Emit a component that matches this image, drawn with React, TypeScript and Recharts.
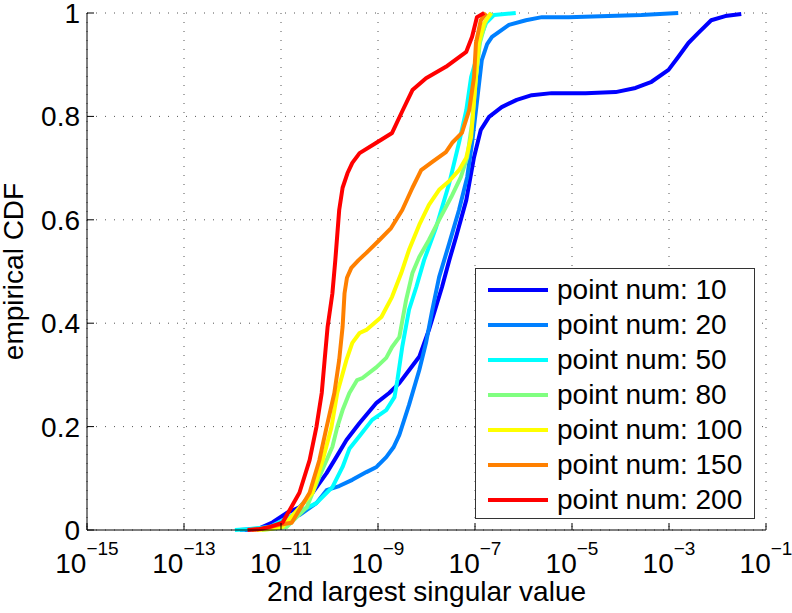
import { LineChart, Line, XAxis, YAxis, CartesianGrid, Legend } from "recharts";

// empirical CDF points per run: [log10(2nd singular value), cdf]
const num10: [number, number][] = [
  [-11.75, 0], [-11.48, 0.002], [-11.17, 0.015], [-10.88, 0.033], [-10.62, 0.044],
  [-10.35, 0.072], [-10.06, 0.11], [-9.86, 0.141], [-9.65, 0.174], [-9.38, 0.207],
  [-9.03, 0.246], [-8.77, 0.265], [-8.56, 0.284], [-8.36, 0.309], [-8.15, 0.335],
  [-7.95, 0.387], [-7.68, 0.47], [-7.53, 0.522], [-7.39, 0.567], [-7.18, 0.638],
  [-7.02, 0.721], [-6.88, 0.774], [-6.71, 0.799], [-6.45, 0.818], [-6.14, 0.832],
  [-5.83, 0.841], [-5.42, 0.845], [-4.72, 0.845], [-4.1, 0.847], [-3.69, 0.855],
  [-3.36, 0.867], [-3.01, 0.89], [-2.81, 0.915], [-2.6, 0.942], [-2.4, 0.961],
  [-2.13, 0.986], [-1.84, 0.994], [-1.51, 0.998],
];

const num20: [number, number][] = [
  [-11.85, 0], [-11.54, 0.002], [-11.13, 0.008], [-10.62, 0.029], [-10.27, 0.052],
  [-10.06, 0.077], [-9.8, 0.085], [-9.53, 0.097], [-9.24, 0.112], [-9.03, 0.122],
  [-8.83, 0.141], [-8.68, 0.16], [-8.56, 0.184], [-8.36, 0.242], [-8.15, 0.309],
  [-8.01, 0.362], [-7.88, 0.426], [-7.74, 0.489], [-7.53, 0.555], [-7.33, 0.619],
  [-7.16, 0.683], [-7.06, 0.749], [-6.98, 0.812], [-6.86, 0.909], [-6.75, 0.94],
  [-6.65, 0.954], [-6.3, 0.977], [-5.95, 0.986], [-5.62, 0.992], [-5.07, 0.992],
  [-4.25, 0.994], [-3.57, 0.996], [-2.81, 1],
];

const num50: [number, number][] = [
  [-11.95, 0], [-11.64, 0.002], [-11.23, 0.006], [-10.68, 0.033], [-10.27, 0.052],
  [-9.94, 0.083], [-9.73, 0.122], [-9.59, 0.157], [-9.38, 0.182], [-9.12, 0.213],
  [-8.83, 0.232], [-8.66, 0.257], [-8.6, 0.29], [-8.5, 0.354], [-8.36, 0.426],
  [-8.21, 0.47], [-8.05, 0.522], [-7.8, 0.586], [-7.53, 0.671], [-7.33, 0.749],
  [-7.18, 0.812], [-7.08, 0.876], [-6.98, 0.909], [-6.88, 0.954], [-6.77, 0.981],
  [-6.61, 0.996], [-6.16, 1],
];

const num80: [number, number][] = [
  [-11.4, 0], [-10.88, 0.006], [-10.47, 0.044], [-10.21, 0.103], [-9.94, 0.161],
  [-9.84, 0.199], [-9.73, 0.232], [-9.59, 0.265], [-9.43, 0.29], [-9.32, 0.294],
  [-9.03, 0.315], [-8.83, 0.333], [-8.71, 0.354], [-8.56, 0.373], [-8.42, 0.445],
  [-8.29, 0.497], [-8.15, 0.528], [-7.95, 0.561], [-7.74, 0.6], [-7.49, 0.644],
  [-7.29, 0.683], [-7.16, 0.721], [-7.06, 0.787], [-6.98, 0.876], [-6.9, 0.942],
  [-6.77, 0.986], [-6.65, 1],
];

const num100: [number, number][] = [
  [-11.5, 0], [-11.23, 0.002], [-10.97, 0.006], [-10.35, 0.072], [-10.14, 0.135],
  [-9.96, 0.199], [-9.84, 0.265], [-9.65, 0.329], [-9.53, 0.362], [-9.38, 0.381],
  [-9.24, 0.387], [-8.93, 0.412], [-8.71, 0.451], [-8.52, 0.497], [-8.36, 0.542],
  [-8.15, 0.59], [-7.95, 0.629], [-7.74, 0.658], [-7.53, 0.675], [-7.33, 0.696],
  [-7.18, 0.72], [-7.08, 0.76], [-6.98, 0.876], [-6.92, 0.942], [-6.81, 0.981],
  [-6.67, 1],
];

const num150: [number, number][] = [
  [-11.6, 0], [-11.4, 0.002], [-11.03, 0.01], [-10.78, 0.014], [-10.41, 0.072],
  [-10.21, 0.135], [-10.06, 0.199], [-9.9, 0.265], [-9.8, 0.329], [-9.73, 0.393],
  [-9.69, 0.458], [-9.64, 0.488], [-9.55, 0.507], [-9.4, 0.522], [-9.24, 0.536],
  [-8.97, 0.561], [-8.73, 0.584], [-8.5, 0.619], [-8.29, 0.662], [-8.11, 0.696],
  [-7.88, 0.712], [-7.6, 0.731], [-7.47, 0.749], [-7.27, 0.768], [-7.12, 0.812],
  [-7.02, 0.876], [-6.98, 0.942], [-6.88, 0.986], [-6.77, 1],
];

const num200: [number, number][] = [
  [-11.69, 0], [-11.44, 0.002], [-11.23, 0.006], [-10.97, 0.014], [-10.62, 0.072],
  [-10.41, 0.135], [-10.27, 0.199], [-10.16, 0.265], [-10.1, 0.329], [-10.04, 0.392],
  [-9.94, 0.458], [-9.88, 0.522], [-9.8, 0.619], [-9.73, 0.662], [-9.63, 0.69],
  [-9.53, 0.71], [-9.38, 0.729], [-9.05, 0.748], [-8.71, 0.768], [-8.5, 0.81],
  [-8.29, 0.851], [-8.01, 0.874], [-7.6, 0.896], [-7.18, 0.925], [-7.06, 0.954],
  [-6.96, 0.992], [-6.81, 1],
];

const seriesNames = [
  "point num: 10", "point num: 20", "point num: 50", "point num: 80",
  "point num: 100", "point num: 150", "point num: 200",
];
const seriesColors = ["#0000ff", "#0080ff", "#00ffff", "#80ff80", "#ffff00", "#ff8000", "#ff0000"];
const seriesPoints = [num10, num20, num50, num80, num100, num150, num200];

const xTicks = [1e-15, 1e-13, 1e-11, 1e-9, 1e-7, 1e-5, 1e-3, 1e-1];
const yTicks = [0, 0.2, 0.4, 0.6, 0.8, 1];

const FONT = "'Liberation Sans', Arial, Helvetica, sans-serif";

const series = seriesNames.map((name, i) => ({
  name,
  color: seriesColors[i],
  data: seriesPoints[i].map(([e, p]) => ({ sv: 10 ** e, cdf: p })),
}));

function PowerTick(props: any) {
  const { x, y, payload } = props;
  const exp = Math.round(Math.log10(payload.value));
  return (
    <text x={x} y={y + 43} textAnchor="middle" fontSize={28} fontFamily={FONT} fill="#000">
      <tspan>10</tspan>
      <tspan dy={-18} fontSize={19}>{`\u2212${-exp}`}</tspan>
    </text>
  );
}

function CdfTick(props: any) {
  const { x, y, payload } = props;
  const v = payload.value;
  const label = v === 0 ? "0" : v === 1 ? "1" : v.toFixed(1);
  return (
    <text x={x} y={y + 10} textAnchor="end" fontSize={28} fontFamily={FONT} fill="#000">
      {label}
    </text>
  );
}

function LegendBox() {
  return (
    <div
      style={{
        position: "relative",
        width: 280,
        height: 251,
        boxSizing: "border-box",
        border: "1px solid #333",
        background: "#fff",
        fontFamily: FONT,
        fontSize: 28,
        color: "#000",
      }}
    >
      {series.map((s, i) => (
        <div key={s.name} style={{ position: "absolute", left: 12, top: 3 + 35 * i, height: 35, display: "flex", alignItems: "center" }}>
          <div style={{ width: 60, height: 4, background: s.color }} />
          <span style={{ marginLeft: 9, lineHeight: "35px", whiteSpace: "nowrap" }}>{s.name}</span>
        </div>
      ))}
    </div>
  );
}

export default function App() {
  return (
    <div style={{ position: "absolute", left: 0, top: 0, background: "#fff" }}>
      <LineChart width={792} height={613} margin={{ top: 13, right: 26, bottom: 0, left: 0 }}>
        <CartesianGrid stroke="#555" strokeDasharray="1 8" />
        <XAxis
          dataKey="sv"
          type="number"
          scale="log"
          domain={[1e-15, 1e-1]}
          ticks={xTicks}
          allowDataOverflow
          height={83}
          tickSize={-7}
          tickMargin={7}
          stroke="#000"
          tick={<PowerTick />}
          label={(p: any) => {
            const vb = p.viewBox;
            return (
              <text x={vb.x + vb.width / 2} y={vb.y + 71} textAnchor="middle" fontSize={28} fontFamily={FONT} fill="#000">
                2nd largest singular value
              </text>
            );
          }}
        />
        <XAxis
          xAxisId="top"
          orientation="top"
          type="number"
          scale="log"
          domain={[1e-15, 1e-1]}
          ticks={xTicks}
          allowDataOverflow
          height={0}
          tickSize={-7}
          tick={false}
          stroke="#000"
        />
        <YAxis
          type="number"
          domain={[0, 1]}
          ticks={yTicks}
          width={87}
          tickSize={-7}
          tickMargin={14}
          stroke="#000"
          tick={<CdfTick />}
          label={(p: any) => {
            const cy = p.viewBox.y + p.viewBox.height / 2;
            return (
              <text x={23} y={cy} transform={`rotate(-90 23 ${cy})`} textAnchor="middle" fontSize={28} fontFamily={FONT} fill="#000">
                empirical CDF
              </text>
            );
          }}
        />
        <YAxis
          yAxisId="right"
          orientation="right"
          type="number"
          domain={[0, 1]}
          ticks={yTicks}
          width={0}
          tickSize={-7}
          tick={false}
          stroke="#000"
        />
        {series.map((s) => (
          <Line
            key={s.name}
            data={s.data}
            dataKey="cdf"
            name={s.name}
            type="linear"
            stroke={s.color}
            strokeWidth={4}
            strokeLinejoin="round"
            dot={false}
            isAnimationActive={false}
          />
        ))}
        <Legend
          layout="horizontal"
          verticalAlign="middle"
          align="center"
          content={() => <LegendBox />}
          wrapperStyle={{ position: "absolute", left: 475, top: 268, width: 280, height: 251 }}
        />
      </LineChart>
    </div>
  );
}
